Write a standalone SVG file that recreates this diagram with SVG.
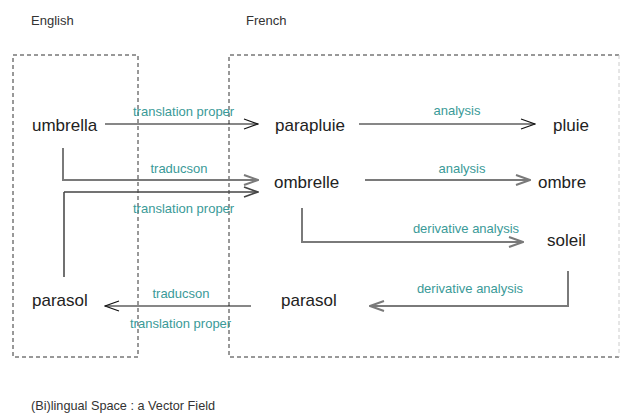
<svg xmlns="http://www.w3.org/2000/svg" width="622" height="415" viewBox="0 0 622 415">
<defs>
<style>
.t{font-family:"Liberation Sans",Arial,sans-serif;fill:#222}
.w{font-size:17px}
.h{font-size:13px;fill:#333}
.l{font-size:13px;fill:#3a9a98}
.box{fill:none;stroke:#333;stroke-width:1;stroke-dasharray:4 3}
.k{fill:none;stroke:#111;stroke-width:1.2}
.g{fill:none;stroke:#7a7a7a;stroke-width:2}
.d{fill:none;stroke:#444;stroke-width:1.6}
</style>
<marker id="ak" markerWidth="16" markerHeight="12" refX="15" refY="6" orient="auto" markerUnits="userSpaceOnUse"><path d="M1,1 L15,6 L1,11" fill="none" stroke="#111" stroke-width="1.2"/></marker>
<marker id="ag" markerWidth="16" markerHeight="12" refX="15" refY="6" orient="auto" markerUnits="userSpaceOnUse"><path d="M1,1 L15,6 L1,11" fill="none" stroke="#7a7a7a" stroke-width="2"/></marker>
<marker id="ad" markerWidth="16" markerHeight="12" refX="15" refY="6" orient="auto" markerUnits="userSpaceOnUse"><path d="M1,1 L15,6 L1,11" fill="none" stroke="#444" stroke-width="1.6"/></marker>
</defs>
<rect width="622" height="415" fill="#fff"/>
<g id="regions">
<text class="t h" x="31" y="25">English</text>
<text class="t h" x="246" y="25">French</text>
<rect class="box" x="13" y="55" width="125" height="302"/>
<path class="box" d="M619,55 H229 V357 H619"/>
<path d="M619,55 V357" fill="none" stroke="#ccc" stroke-width="1" stroke-dasharray="4 3"/>
</g>
<g id="connectors">
<path class="k" d="M105,124 H258" marker-end="url(#ak)"/>
<path class="k" d="M359,124 H535" marker-end="url(#ak)"/>
<path class="g" d="M63,148 V180 H258" marker-end="url(#ag)"/>
<path class="k" d="M64,277 V192"/>
<path class="d" d="M64,192 H258" marker-end="url(#ad)"/>
<path class="g" d="M365,180 H530" marker-end="url(#ag)"/>
<path class="g" d="M302,208 V242 H523" marker-end="url(#ag)"/>
<path class="g" d="M568,271 V306 H370" marker-end="url(#ag)"/>
<path class="k" d="M251,306 H105" marker-end="url(#ak)"/>
<text class="t l" x="133" y="116">translation proper</text>
<text class="t l" x="457" y="115" text-anchor="middle">analysis</text>
<text class="t l" x="179" y="173" text-anchor="middle">traducson</text>
<text class="t l" x="133" y="213">translation proper</text>
<text class="t l" x="462" y="173" text-anchor="middle">analysis</text>
<text class="t l" x="466" y="233" text-anchor="middle">derivative analysis</text>
<text class="t l" x="470" y="293" text-anchor="middle">derivative analysis</text>
<text class="t l" x="181" y="298" text-anchor="middle">traducson</text>
<text class="t l" x="130" y="328">translation proper</text>
</g>
<g id="umbrella"><text class="t w" x="32" y="131">umbrella</text></g>
<g id="parapluie"><text class="t w" x="275" y="131">parapluie</text></g>
<g id="pluie"><text class="t w" x="553" y="131">pluie</text></g>
<g id="ombrelle"><text class="t w" x="274" y="188">ombrelle</text></g>
<g id="ombre"><text class="t w" x="538" y="188">ombre</text></g>
<g id="soleil"><text class="t w" x="547" y="246">soleil</text></g>
<g id="parasol-fr"><text class="t w" x="281" y="306">parasol</text></g>
<g id="parasol-en"><text class="t w" x="32" y="306">parasol</text></g>
<g id="caption"><text class="t h" x="31" y="410" style="font-size:12.7px">(Bi)lingual Space : a Vector Field</text></g>
</svg>
